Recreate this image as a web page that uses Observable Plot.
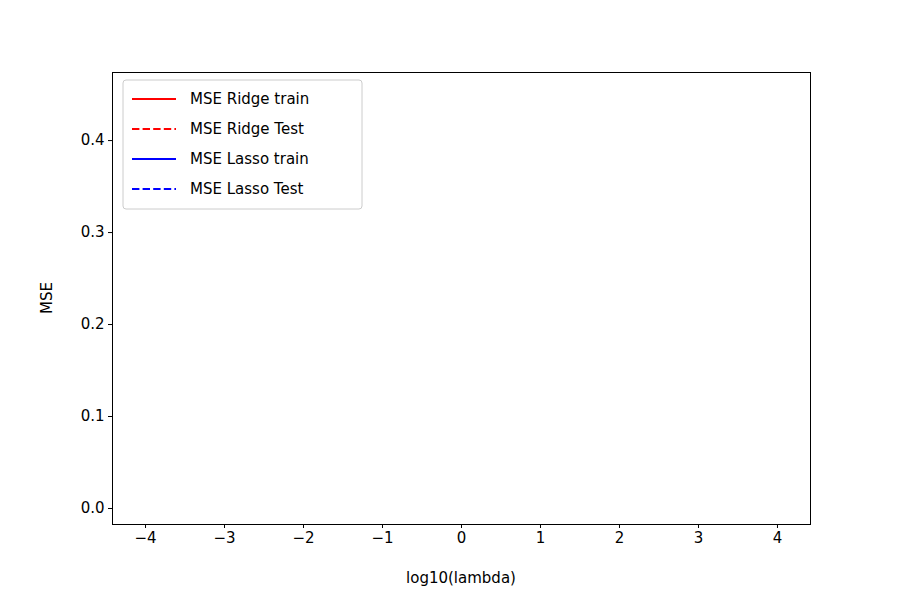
<!DOCTYPE html>
<html><head><meta charset="utf-8">
<script src="https://cdn.jsdelivr.net/npm/d3@7"></script>
<script src="https://cdn.jsdelivr.net/npm/@observablehq/plot@0.6"></script>
<style>body{margin:0;background:#fff}</style>
</head><body><div id="c"></div>
<script>
const ridgeTrainX=[-4,-3,-2,-1.5,-1,-0.5,0,0.5,1,1.5,2,2.5,3,3.5,4];
const ridgeTrainY=[0.004,0.006,0.008,0.010,0.013,0.019,0.026,0.035,0.048,0.075,0.115,0.16,0.198,0.218,0.226];
const ridgeTestX=[-4,-3,-2,-1.5,-1,-0.5,0,0.5,1,1.5,2,2.5,3,3.5,4];
const ridgeTestY=[0.012,0.021,0.023,0.022,0.025,0.035,0.055,0.088,0.14,0.21,0.29,0.37,0.42,0.44,0.446];
const lassoTrainX=[-4,-3.5,-3,-2.75,-2.5,-2,-1.75,-1.5,-1.4,-1.25,-1,-0.8,-0.6,-0.5,-0.4,-0.35,4];
const lassoTrainY=[0.007,0.009,0.013,0.017,0.025,0.03,0.04,0.058,0.072,0.075,0.082,0.095,0.13,0.16,0.21,0.23,0.23];
const lassoTestX=[-4,-3.5,-3,-2.75,-2.5,-2.25,-2,-1.75,-1.5,-1.35,-1.25,-1,-0.8,-0.6,-0.5,-0.4,-0.35,4];
const lassoTestY=[0.024,0.021,0.026,0.037,0.052,0.06,0.075,0.1,0.145,0.172,0.18,0.2,0.235,0.3,0.37,0.44,0.45,0.45];
const xTicks=[-4,-3,-2,-1,0,1,2,3,4];
const yTicks=[0,0.1,0.2,0.3,0.4];
const series=[
 {name:"MSE Ridge train",x:ridgeTrainX,y:ridgeTrainY,color:"red",dash:"none"},
 {name:"MSE Ridge Test",x:ridgeTestX,y:ridgeTestY,color:"red",dash:"7.4,3.2"},
 {name:"MSE Lasso train",x:lassoTrainX,y:lassoTrainY,color:"blue",dash:"none"},
 {name:"MSE Lasso Test",x:lassoTestX,y:lassoTestY,color:"blue",dash:"7.4,3.2"}];
const marks=[Plot.frame({stroke:"black"})];
for(const s of series){
  const d=s.x.map((x,i)=>({x,y:s.y[i]}));
  marks.push(Plot.line(d,{x:"x",y:"y",stroke:s.color,strokeWidth:2,curve:"monotone-x",ariaLabel:"series"}));
}
marks.push(Plot.axisX({ticks:xTicks,tickSize:4,tickFormat:d=>d<0?"\u2212"+(-d):String(d),label:null,fontSize:15,tickPadding:4}));
marks.push(Plot.axisY({ticks:yTicks,tickSize:4,tickFormat:d=>d.toFixed(1),label:null,fontSize:15,tickPadding:4}));
const chart=Plot.plot({width:900,height:600,marginLeft:112,marginRight:90,marginTop:72,marginBottom:76,
 style:{fontFamily:"DejaVu Sans",fontSize:"15px",color:"black"},
 x:{domain:[-4.418,4.418]},y:{domain:[-0.0174,0.474]},marks});
const svg=d3.select(chart);
svg.selectAll('g[aria-label="series"] path').each(function(_,i){
  d3.select(this).attr("stroke-dasharray",series[i].dash);
});
const g=svg.append("g").attr("font-family","DejaVu Sans").attr("font-size",15).attr("text-anchor","start");
g.append("text").attr("x",461).attr("y",583).attr("text-anchor","middle").text("log10(lambda)");
g.append("text").attr("transform","translate(52,298) rotate(-90)").attr("text-anchor","middle").text("MSE");
g.append("rect").attr("x",123).attr("y",80).attr("width",239).attr("height",129).attr("rx",3)
 .attr("fill","white").attr("fill-opacity",0.8).attr("stroke","#ccc");
series.forEach((s,i)=>{
  const y=99+i*30;
  g.append("line").attr("x1",132).attr("x2",176).attr("y1",y).attr("y2",y).attr("stroke",s.color).attr("stroke-width",2).attr("stroke-dasharray",s.dash);
  g.append("text").attr("x",190).attr("y",y).attr("dy","0.35em").attr("text-anchor","start").text(s.name);
});
document.getElementById("c").appendChild(chart);
</script></body></html>
